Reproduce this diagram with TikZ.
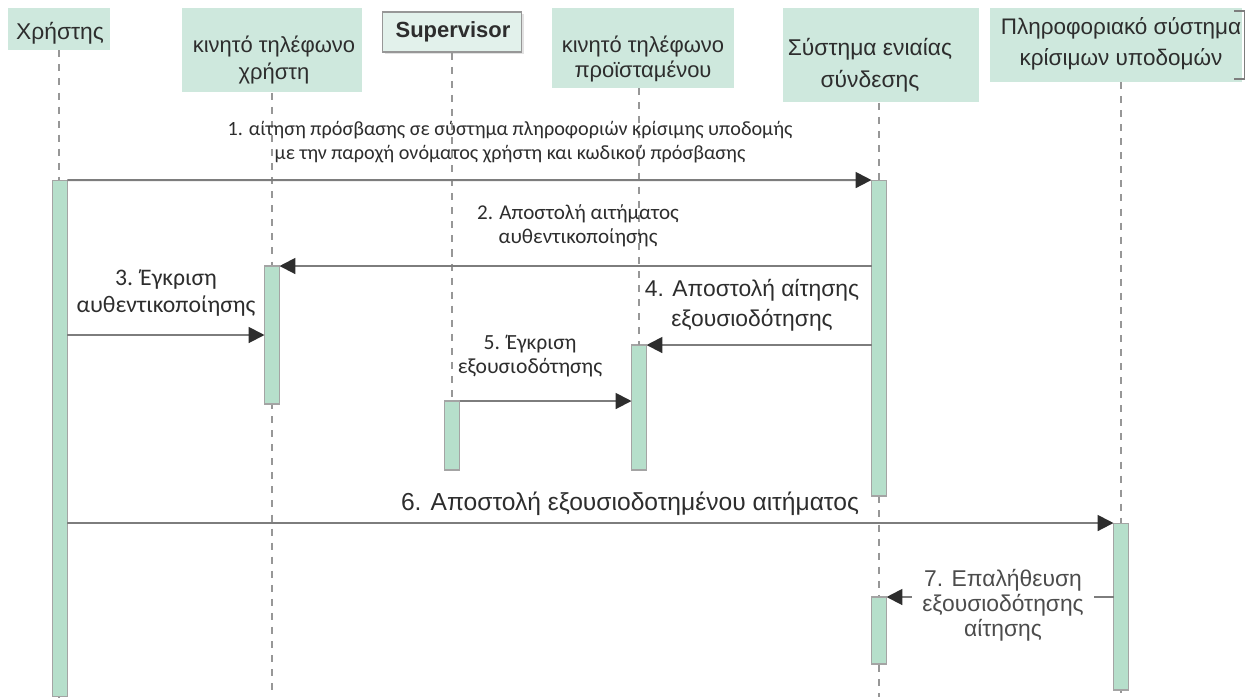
\documentclass[tikz,border=0pt]{standalone}
\usepackage{fontspec}
\setmainfont{Liberation Sans}
\newfontfamily\calfont{Carlito}
\usetikzlibrary{arrows.meta,shadows}
\definecolor{headfill}{RGB}{206,232,221}
\definecolor{barfill}{RGB}{182,223,203}
\definecolor{linegray}{RGB}{125,125,125}
\definecolor{txtgray}{RGB}{45,45,45}
\tikzset{
myhead/.style={
  rectangle,
  fill=headfill,
  inner sep=0pt,
  }
}
\tikzset{
myheadtxt/.style={
  align=center,
  inner sep=0pt,
  text=txtgray,
  font=\fontsize{13}{16}\selectfont,
  }
}
\tikzset{
mybar/.style={
  rectangle,
  fill=barfill,
  draw=linegray!70,
  line width=0.6pt,
  inner sep=0pt,
  outer sep=0pt,
  minimum width=0.3cm,
  }
}
\tikzset{
mylife/.style={
  draw=linegray!80,
  line width=0.8pt,
  dash pattern=on 4pt off 4pt,
  }
}
\tikzset{
myline/.style={
  draw=linegray,
  line width=1.1pt,
  -{Triangle[length=9pt,width=9pt,color=txtgray]}
  }
}
\tikzset{
mylabel/.style={
  align=center,
  inner sep=1pt,
  text=txtgray,
  }
}

\begin{document}
\begin{tikzpicture}[x=0.02cm,y=-0.02cm]
    \useasboundingbox (0,0) rectangle (1257,697);
    \coordinate (bot) at (0,697);
    % lifeline heads
    \node[myhead, minimum width=2.04cm, minimum height=0.84cm] (usr) at (59,29) {};
    \node[myhead, minimum width=3.6cm, minimum height=1.7cm] (ph) at (272,50) {};
    \node[myhead, fill=headfill!60, draw=linegray!80, line width=0.8pt, minimum width=2.78cm, minimum height=0.8cm,
          drop shadow={shadow xshift=1.2pt, shadow yshift=-1.2pt, fill=gray!45}] (sup) at (452,32) {};
    \node[myhead, minimum width=3.66cm, minimum height=1.6cm] (sph) at (643,48) {};
    \node[myhead, minimum width=3.94cm, minimum height=1.9cm] (sys) at (881,55) {};
    \node[myhead, minimum width=5.06cm, minimum height=1.48cm] (pis) at (1116,45) {};
    \draw[linegray, line width=0.8pt] ([xshift=-5pt,yshift=-2pt]pis.north east) -- ([xshift=1pt,yshift=-2pt]pis.north east)
        -- ([xshift=1pt,yshift=2pt]pis.south east) -- ([xshift=-5pt,yshift=2pt]pis.south east);
    \node[myheadtxt] (usrtxt) at (60,33) {Χρήστης};
    \node[myheadtxt, font=\fontsize{12.5}{15.3}\selectfont] (phtxt) at (274,60) {κινητό τηλέφωνο\\χρήστη};
    \node[myheadtxt, font=\fontsize{12.5}{14}\selectfont\bfseries] (suptxt) at (453,32) {Supervisor};
    \node[myheadtxt, font=\fontsize{12.5}{14.5}\selectfont] (sphtxt) at (643,59) {κινητό τηλέφωνο\\προϊσταμένου};
    \node[myheadtxt, font=\fontsize{13}{18}\selectfont] (systxt) at (870,65) {Σύστημα ενιαίας\\σύνδεσης};
    \node[myheadtxt, font=\fontsize{12.8}{18}\selectfont] (pistxt) at (1121,44) {Πληροφοριακό σύστημα\\κρίσιμων υποδομών};
    % lifelines
    \draw[mylife] (usr.south) -- (usr.south |- bot);
    \draw[mylife] (ph.south) -- (ph.south |- bot);
    \draw[mylife] (sys.south -| 879,0) -- (879,697);
    \draw[mylife] (1121,82) -- (1121,697);
    % activation bars
    \node[mybar, minimum height=10.34cm] (usrbar) at (60,438.5) {};
    \node[mybar, minimum height=2.76cm] (phbar) at (272,335) {};
    \node[mybar, minimum height=1.38cm] (supbar) at (452,435.5) {};
    \node[mybar, minimum height=2.5cm] (sphbar) at (639,407.5) {};
    \node[mybar, minimum height=6.32cm] (sysbar) at (879,338) {};
    \node[mybar, minimum height=1.34cm] (sysbarb) at (879,630.5) {};
    \node[mybar, minimum height=3.34cm] (pisbar) at (1121,606.5) {};
    \draw[mylife] (sup.south) -- (supbar.north);
    \draw[mylife] (sph.south -| sphbar.north) -- (sphbar.north);
    % messages
    \node[mylabel, font=\calfont\fontsize{11.5}{14}\selectfont] (lab1) at (510,142) {1. αίτηση πρόσβασης σε σύστημα πληροφοριών κρίσιμης υποδομής\\με την παροχή ονόματος χρήστη και κωδικού πρόσβασης};
    \node[mylabel, font=\calfont\fontsize{12}{13.6}\selectfont] (lab2) at (578,226) {2. Αποστολή αιτήματος\\αυθεντικοποίησης};
    \node[mylabel, font=\calfont\fontsize{13.5}{15.3}\selectfont] (lab3) at (166,293) {3. Έγκριση\\αυθεντικοποίησης};
    \node[mylabel, font=\fontsize{13}{17}\selectfont] (lab4) at (752,305) {4. Αποστολή αίτησης\\εξουσιοδότησης};
    \node[mylabel, font=\calfont\fontsize{12.3}{14}\selectfont] (lab5) at (530,356) {5. Έγκριση\\εξουσιοδότησης};
    \node[mylabel, font=\fontsize{14}{17}\selectfont] (lab6) at (630,504) {6. Αποστολή εξουσιοδοτημένου αιτήματος};
    \draw[myline] (usrbar.north east) -- (sysbar.north west);
    \draw[myline] (sysbar.west |- phbar.north) -- (phbar.north east);
    \draw[myline] (usrbar.east |- phbar.west) -- (phbar.west);
    \draw[myline] (sysbar.west |- sphbar.north) -- (sphbar.north east);
    \draw[myline] (supbar.north east) -- (sphbar.west |- supbar.north);
    \draw[myline] (usrbar.east |- pisbar.north) -- (pisbar.north west);
    \draw[myline] (pisbar.west |- sysbarb.north) -- (sysbarb.north east);
    \node[mylabel, fill=white, inner xsep=6pt, text=txtgray!85, font=\fontsize{13}{14.2}\selectfont] (lab7) at (1003,605) {7. Επαλήθευση\\εξουσιοδότησης\\αίτησης};
\end{tikzpicture}
\end{document}
